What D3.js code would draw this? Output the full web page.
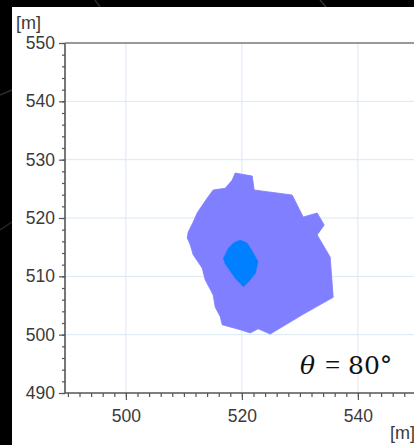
<!DOCTYPE html>
<html>
<head>
<meta charset="utf-8">
<script src="https://cdn.jsdelivr.net/npm/d3@7"></script>
<style>
html,body{margin:0;padding:0;background:#000;}
svg{display:block;}
</style>
</head>
<body>
<svg id="chart" width="414" height="445"></svg>
<script>
// ---- data ----
const xTicks = [500, 520, 540];
const yTicks = [490, 500, 510, 520, 530, 540, 550];
const unitLabel = "[m]";
const angleLabel = "θ = 80°";
// outer region (light purple) vertices [x, y] in metres
const outerX = [518.84,521.78,522.12,528.67,530.57,532.98,534.19,532.98,535.22,535.74,530.40,524.88,522.81,521.43,519.71,516.60,516.26,515.40,515.05,513.67,513.16,511.60,511.09,510.57,510.74,511.60,512.30,514.00,515.05,517.12,518.33];
const outerY = [527.71,527.20,524.80,523.94,520.17,520.86,518.80,517.10,513.30,506.40,503.40,500.10,501.00,500.30,500.85,501.70,503.10,504.70,506.80,509.40,511.40,513.70,515.40,516.60,517.60,519.30,520.90,523.40,524.80,525.10,526.50];
// inner region (blue)
const innerX = [519.71,520.86,521.83,522.76,522.29,521.14,520.28,518.84,517.12,516.83,517.69,518.55];
const innerY = [516.20,515.70,514.20,512.50,510.50,509.10,508.20,509.70,512.20,513.10,514.80,515.70];

// ---- layout ----
const svg = d3.select("#chart");
const W = 414, H = 445;
const plot = {left: 65, top: 43, bottom: 393};
const x = d3.scaleLinear().domain([489.5, 550]).range([plot.left, plot.left + 60.5 * 5.8]);
const y = d3.scaleLinear().domain([490, 550]).range([plot.bottom, plot.top]);

svg.append("rect").attr("width", W).attr("height", H).attr("fill", "#000");
// faint decorative lines on the dark frame
svg.append("line").attr("x1", 0).attr("y1", 95).attr("x2", 12).attr("y2", 90).attr("stroke", "#2a2a2a").attr("stroke-width", 1.5);
svg.append("line").attr("x1", 0).attr("y1", 230).attr("x2", 12).attr("y2", 222).attr("stroke", "#262626").attr("stroke-width", 1.5);
svg.append("line").attr("x1", 320).attr("y1", 0).attr("x2", 326).attr("y2", 7).attr("stroke", "#333").attr("stroke-width", 1.5);
svg.append("line").attr("x1", 95).attr("y1", 0).attr("x2", 100).attr("y2", 7).attr("stroke", "#2a2a2a").attr("stroke-width", 1.5);
svg.append("rect").attr("x", 12).attr("y", 7).attr("width", W - 12).attr("height", H - 7).attr("fill", "#fff");

const gridColor = "#d8e9f7";
// grid
svg.append("g").selectAll("line").data(yTicks.filter(d => d > 490 && d < 550)).join("line")
  .attr("x1", plot.left).attr("x2", W).attr("y1", d => y(d)).attr("y2", d => y(d))
  .attr("stroke", gridColor).attr("stroke-width", 1);
svg.append("g").selectAll("line").data(xTicks).join("line")
  .attr("x1", d => x(d)).attr("x2", d => x(d)).attr("y1", plot.top).attr("y2", plot.bottom)
  .attr("stroke", gridColor).attr("stroke-width", 1);

// regions
const line = d3.line().x(d => x(d[0])).y(d => y(d[1])).curve(d3.curveLinearClosed);
const outer = outerX.map((v, i) => [v, outerY[i]]);
const inner = innerX.map((v, i) => [v, innerY[i]]);
svg.append("path").attr("d", line(outer)).attr("fill", "#7f7fff").attr("stroke", "#7f7fff").attr("stroke-width", 0.8);
svg.append("path").attr("d", line(inner)).attr("fill", "#0080ff").attr("stroke", "#0080ff").attr("stroke-width", 0.8);

// axes
const axisColor = "#555";
const font = "Arial, 'Liberation Sans', sans-serif";
const yMinor = d3.range(490, 551, 2);
const xMinor = d3.range(490, 551, 2);

const yAxisMinor = d3.axisLeft(y).tickValues(yMinor).tickSize(3).tickFormat("");
const yAxis = d3.axisLeft(y).tickValues(yTicks).tickSize(6).tickPadding(4).tickFormat(d3.format("d"));
const xAxisMinor = d3.axisBottom(x).tickValues(xMinor).tickSize(4).tickFormat("");
const xAxis = d3.axisBottom(x).tickValues(xTicks).tickSize(7).tickPadding(10).tickFormat(d3.format("d"));

function styleAxis(g) {
  g.select(".domain").remove();
  g.selectAll("line").attr("stroke", axisColor).attr("stroke-width", 1.2);
  g.selectAll("text").attr("fill", "#3a3a3a").style("font-family", font).style("font-size", "17.5px");
}
svg.append("g").attr("transform", `translate(${plot.left},0)`).call(yAxisMinor).call(styleAxis);
svg.append("g").attr("transform", `translate(${plot.left},0)`).call(yAxis).call(styleAxis);
svg.append("g").attr("transform", `translate(0,${plot.bottom})`).call(xAxisMinor).call(styleAxis);
svg.append("g").attr("transform", `translate(0,${plot.bottom})`).call(xAxis).call(styleAxis);

// frame lines
svg.append("line").attr("x1", plot.left).attr("x2", plot.left).attr("y1", plot.top).attr("y2", plot.bottom)
  .attr("stroke", axisColor).attr("stroke-width", 1.6);
svg.append("line").attr("x1", plot.left).attr("x2", W).attr("y1", plot.bottom).attr("y2", plot.bottom)
  .attr("stroke", axisColor).attr("stroke-width", 1.6);
svg.append("line").attr("x1", plot.left).attr("x2", W).attr("y1", plot.top).attr("y2", plot.top)
  .attr("stroke", "#777").attr("stroke-width", 1.6);

// unit labels
svg.append("text").attr("x", 16).attr("y", 29).text(unitLabel)
  .attr("fill", "#3a3a3a").style("font-family", font).style("font-size", "18px");
svg.append("text").attr("x", 390).attr("y", 439).text(unitLabel)
  .attr("fill", "#3a3a3a").style("font-family", font).style("font-size", "18px");

// angle annotation
const ang = svg.append("text").attr("x", 300).attr("y", 374)
  .attr("fill", "#111").style("font-family", "'DejaVu Serif', 'Liberation Serif', serif").style("font-size", "25px");
const parts = angleLabel.split(" ");
ang.append("tspan").text(parts[0]).style("font-style", "italic");
ang.append("tspan").attr("x", 325).style("font-family", "'Liberation Serif', serif").style("font-size", "27px").text(parts[1]);
ang.append("tspan").attr("x", 348).style("font-family", "'DejaVu Serif', serif").style("font-size", "25px").text(parts[2]);
</script>
</body>
</html>
